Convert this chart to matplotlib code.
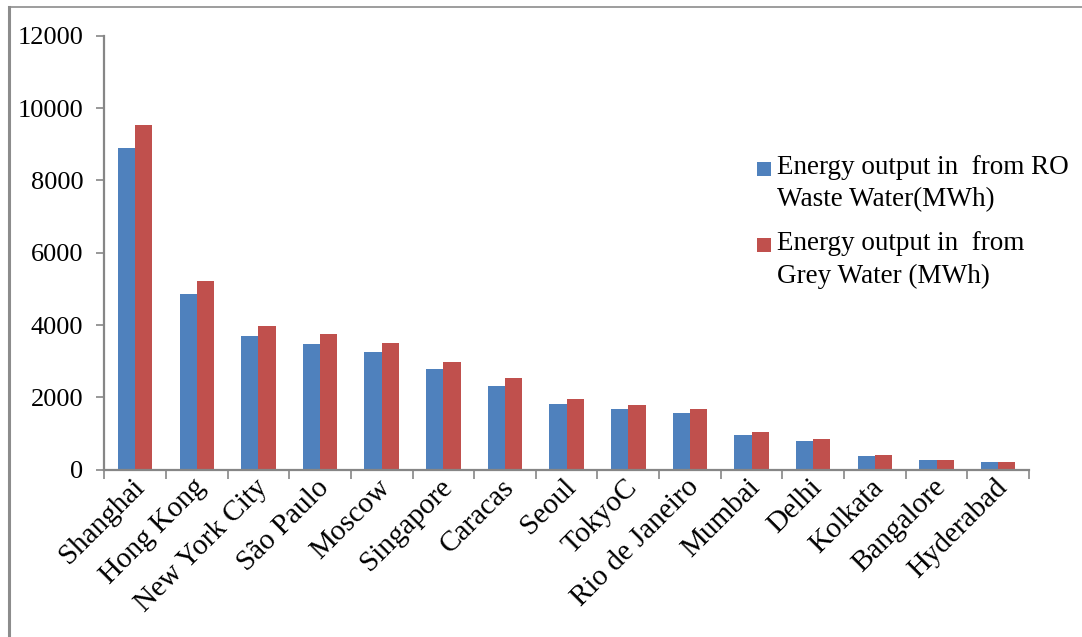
import matplotlib
matplotlib.use("Agg")
import matplotlib.pyplot as plt
import numpy as np
from matplotlib.patches import Rectangle
from matplotlib.lines import Line2D

cities = ["Shanghai", "Hong Kong", "New York City", "São Paulo", "Moscow",
          "Singapore", "Caracas", "Seoul", "TokyoC", "Rio de Janeiro",
          "Mumbai", "Delhi", "Kolkata", "Bangalore", "Hyderabad"]
ro_waste = [8900, 4860, 3700, 3475, 3255, 2785, 2315, 1820, 1680, 1570,
            960, 795, 380, 270, 215]
grey_water = [9530, 5220, 3975, 3750, 3505, 2980, 2535, 1955, 1790, 1680,
              1045, 850, 405, 272, 217]
yticks = [0, 2000, 4000, 6000, 8000, 10000, 12000]
series_labels = ["Energy output in  from RO\nWaste Water(MWh)",
                 "Energy output in  from\nGrey Water (MWh)"]

blue = "#4F81BD"
red = "#C0504D"
gray = "#868686"
font = "Liberation Serif"
W, H = 1082, 637

fig = plt.figure(figsize=(10.82, 6.37), dpi=100)
ax = fig.add_axes([104.3 / W, 1 - 469.7 / H, (1029 - 104.3) / W, (469.7 - 35.7) / H])

x = np.arange(len(cities))
w = 0.28
ax.bar(x - w / 2, ro_waste, width=w, color=blue, label=series_labels[0])
ax.bar(x + w / 2, grey_water, width=w, color=red, label=series_labels[1])

ax.set_xlim(-0.5, len(cities) - 0.5)
ax.set_ylim(0, 12000)
ax.set_yticks(yticks)
ax.set_yticklabels([str(v) for v in yticks], fontsize=19, fontfamily=font)

ax.set_xticks(np.arange(-0.5, len(cities), 1.0), minor=False)
ax.set_xticklabels([])
ax.set_xticks(x + 0.08, minor=True)
ax.set_xticklabels(cities, minor=True, rotation=45, ha="right", va="center",
                   rotation_mode="anchor", fontsize=21, fontfamily=font)
ax.tick_params(axis="x", which="minor", length=0, pad=10)
ax.tick_params(axis="x", which="major", length=6.5, width=1.2, color=gray, direction="out")
ax.tick_params(axis="y", length=6, width=1.2, color=gray, direction="out", pad=9)

for s in ["top", "right"]:
    ax.spines[s].set_visible(False)
for s in ["left", "bottom"]:
    ax.spines[s].set_color(gray)
    ax.spines[s].set_linewidth(1.6)

# legend drawn as figure artists: square marker beside the first line of each label
legend_colors = [blue, red]
entry_top = [162, 238]  # pixel top of each marker square
for lab, col, top in zip(series_labels, legend_colors, entry_top):
    fig.add_artist(Rectangle((757 / W, 1 - (top + 14) / H), 14 / W, 14 / H,
                             transform=fig.transFigure, facecolor=col, edgecolor="none"))
    fig.text(777 / W, 1 - (top - 7) / H, lab, ha="left", va="top",
             fontsize=19.5, fontfamily=font, linespacing=1.4)

# outer frame lines (left and top)
fig.add_artist(Line2D([9 / W, 9 / W], [0, 1 - 7 / H], transform=fig.transFigure,
                      color="#8c8c8c", linewidth=2.2))
fig.add_artist(Line2D([9 / W, 1], [1 - 7 / H, 1 - 7 / H], transform=fig.transFigure,
                      color="#8c8c8c", linewidth=1.2))

fig.savefig("out.png", dpi=100)
